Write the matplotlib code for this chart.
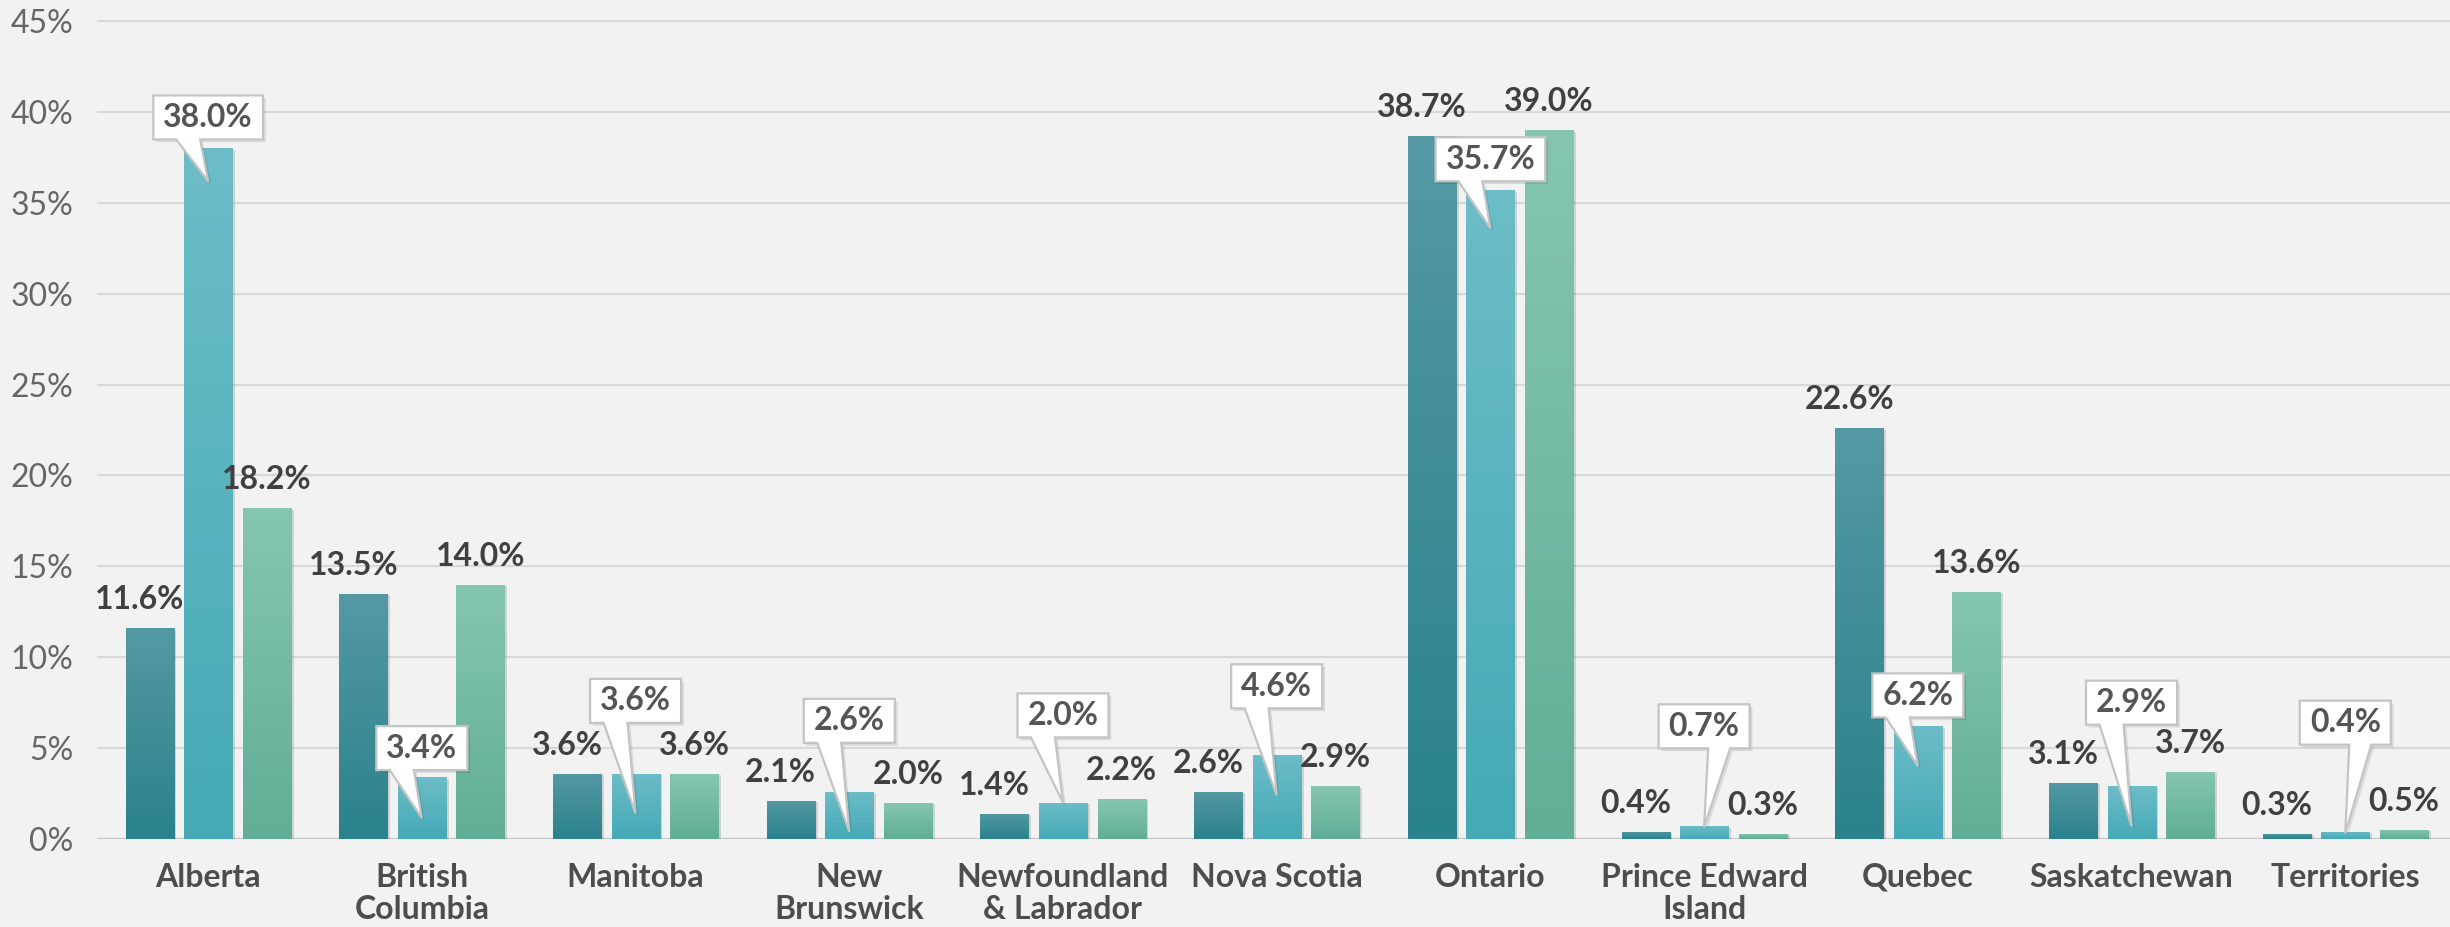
import numpy as np
import matplotlib
matplotlib.use('Agg')
import matplotlib.pyplot as plt
import matplotlib.patheffects as pe
from matplotlib.patches import Polygon
from matplotlib.colors import LinearSegmentedColormap
from matplotlib.transforms import IdentityTransform

plt.rcParams['font.family'] = ['Lato', 'DejaVu Sans']

provinces = ['Alberta', 'British\nColumbia', 'Manitoba', 'New\nBrunswick',
             'Newfoundland\n& Labrador', 'Nova Scotia', 'Ontario',
             'Prince Edward\nIsland', 'Quebec', 'Saskatchewan', 'Territories']
series_a = [11.6, 13.5, 3.6, 2.1, 1.4, 2.6, 38.7, 0.4, 22.6, 3.1, 0.3]
series_b = [38.0, 3.4, 3.6, 2.6, 2.0, 4.6, 35.7, 0.7, 6.2, 2.9, 0.4]
series_c = [18.2, 14.0, 3.6, 2.0, 2.2, 2.9, 39.0, 0.3, 13.6, 3.7, 0.5]
y_ticks = list(range(0, 50, 5))

# callout placement for the middle series (box centre / pointer tip, in % units)
callout_box_y = [39.7, 5.0, 7.6, 6.5, 6.8, 8.4, 37.4, 6.2, 7.9, 7.5, 6.4]
callout_tip_y = [36.2, 1.15, 1.4, 0.4, 2.0, 2.4, 33.6, 0.65, 4.0, 0.7, 0.3]
callout_side = [-1, -1, -1, -1, -1, -1, -1, 1, -1, -1, 1]

# (bottom colour, top colour) for each series
gradients = [('#2a828c', '#5499a3'), ('#45a9b6', '#6cbdc7'), ('#60ae95', '#86c6b0')]

W, H = 2450, 927
fig = plt.figure(figsize=(W / 100, H / 100), dpi=100)
fig.patch.set_facecolor('#f2f2f2')
ax = fig.add_axes([97 / W, 88 / H, 1 - 97 / W, (839 - 20) / H])
ax.set_facecolor('#f2f2f2')

x = np.arange(len(provinces))
width = 0.225
offsets = [-0.274, 0, 0.274]
grad = np.linspace(0, 1, 256).reshape(-1, 1)

for vals, off, (c0, c1) in zip([series_a, series_b, series_c], offsets, gradients):
    bars = ax.bar(x + off, vals, width, color=c0, zorder=2,
                  path_effects=[pe.SimplePatchShadow(offset=(2, -1), shadow_rgbFace='black', alpha=0.13),
                                pe.Normal()])
    cmap = LinearSegmentedColormap.from_list('g', [c0, c1])
    for b in bars:
        im = ax.imshow(grad, cmap=cmap, origin='lower', aspect='auto', zorder=2.5,
                       extent=[b.get_x(), b.get_x() + b.get_width(), 0, b.get_height()])
        im.set_clip_path(b)

ax.set_xlim(-0.52, 10.49)
ax.set_ylim(0, 45.06)

ax.set_yticks(y_ticks)
ax.set_yticklabels([f'{t}%' for t in y_ticks], fontsize=23, color='#666666')
ax.set_xticks(x)
ax.set_xticklabels(provinces, fontsize=23, color='#4d4d4d', fontweight='bold', linespacing=1.15)
ax.tick_params(axis='y', length=0, pad=17)
ax.tick_params(axis='x', length=0, pad=17)
ax.grid(axis='y', color='#d9d9d9', linewidth=1.6)
ax.set_axisbelow(True)
for s in ax.spines.values():
    s.set_visible(False)
ax.axhline(0, color='#c6c6c6', linewidth=2.2, zorder=1.5)

# plain labels for the outer series
for vals, dx in [(series_a, -10), (series_c, 0)]:
    off = offsets[0] if dx else offsets[2]
    for xi, v in zip(x, vals):
        ax.annotate(f'{v:.1f}%', (xi + off, v), xytext=(dx, 19), textcoords='offset pixels',
                    ha='center', va='baseline', fontsize=23, fontweight='bold', color='#404040', zorder=5)

# callout labels for the middle series
renderer = fig.canvas.get_renderer()
for xi, v, by, ty, side in zip(x, series_b, callout_box_y, callout_tip_y, callout_side):
    t = ax.text(xi, by, f'{v:.1f}%', ha='center', va='center', fontsize=23, fontweight='bold',
                color='#555555', zorder=7)
    ext = t.get_window_extent(renderer)
    cx, cy = ax.transData.transform((xi, by))
    tx, tyy = ax.transData.transform((xi, ty))
    hw = ext.width / 2 + 10
    hh = 22
    b1, b2 = (-32, -8) if side < 0 else (4, 26)
    top, bot = cy + hh, cy - hh
    verts = [(cx - hw, top), (cx + hw, top), (cx + hw, bot), (cx + b2, bot), (tx, tyy),
             (cx + b1, bot), (cx - hw, bot)]
    poly = Polygon(verts, closed=True, transform=IdentityTransform(), facecolor='white',
                   edgecolor='#c4c4c4', linewidth=1.6, zorder=6, clip_on=False,
                   path_effects=[pe.SimplePatchShadow(offset=(2, -2), shadow_rgbFace='black', alpha=0.1),
                                 pe.Normal()])
    ax.add_patch(poly)

fig.savefig('out.png', dpi=100, facecolor=fig.get_facecolor())
